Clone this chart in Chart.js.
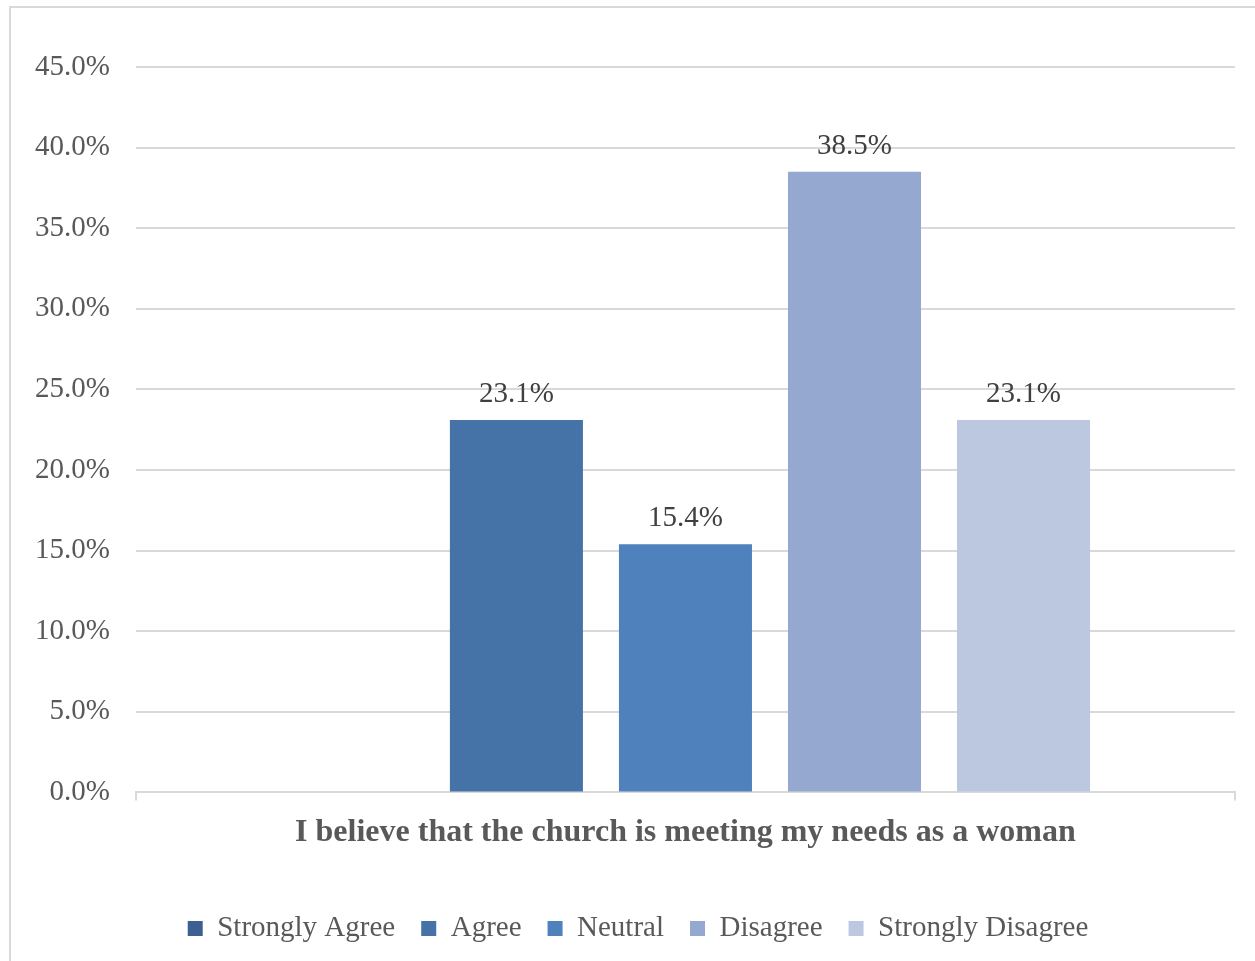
<!DOCTYPE html>
<html>
<head>
<meta charset="utf-8">
<script src="https://cdn.jsdelivr.net/npm/chart.js@4"></script>
<style>
  body { margin: 0; background: #ffffff; overflow: hidden; }
  #wrap { width: 1255px; height: 961px; position: relative; overflow: hidden; }
</style>
</head>
<body>
<div id="wrap"><canvas id="myChart" width="1255" height="961"></canvas></div>
<script>
const categories = ["I believe that the church is meeting my needs as a woman"];
const seriesNames = ["Strongly Agree", "Agree", "Neutral", "Disagree", "Strongly Disagree"];
const seriesValues = [0, 23.1, 15.4, 38.5, 23.1];
const seriesColors = ["#3b6091", "#4573a8", "#4f81bd", "#95a9d0", "#bcc8e0"];
const yTicks = [0, 5, 10, 15, 20, 25, 30, 35, 40, 45];

const serif = "'Liberation Serif', 'Times New Roman', serif";

// light frame on the left and top edge, like the source picture
const frame = {
  id: "frame",
  beforeDraw(chart) {
    const ctx = chart.ctx;
    ctx.save();
    ctx.fillStyle = "#ffffff";
    ctx.fillRect(0, 0, chart.width, chart.height);
    ctx.strokeStyle = "#d9d9d9";
    ctx.lineWidth = 2;
    ctx.beginPath();
    ctx.moveTo(10, chart.height);
    ctx.lineTo(10, 7);
    ctx.lineTo(chart.width, 7);
    ctx.stroke();
    ctx.restore();
  },
};

// nudge the legend a bit to the right, the original isn't centred on the canvas
const legendShift = {
  id: "legendShift",
  afterLayout(chart) {
    chart.legend.left += 16;
    chart.legend.right += 16;
  },
};

const barLabels = {
  id: "barLabels",
  afterDatasetsDraw(chart) {
    const ctx = chart.ctx;
    ctx.save();
    ctx.font = "29px " + serif;
    ctx.fillStyle = "#404040";
    ctx.textAlign = "center";
    ctx.textBaseline = "bottom";
    chart.data.datasets.forEach((ds, i) => {
      const meta = chart.getDatasetMeta(i);
      meta.data.forEach((bar, j) => {
        const v = ds.data[j];
        if (!v) return;
        ctx.fillText(v.toFixed(1) + "%", bar.x, bar.y - 11);
      });
    });
    ctx.restore();
  },
};

const datasets = seriesNames.map((name, i) => ({
  label: name,
  data: [seriesValues[i]],
  backgroundColor: seriesColors[i],
  categoryPercentage: 0.769,
  barPercentage: 0.787,
}));

const config = {
  type: "bar",
  data: { labels: categories, datasets },
  plugins: [frame, legendShift, barLabels],
  options: {
    responsive: false,
    animation: false,
    layout: { padding: { left: 9, right: 20, top: 67, bottom: 8 } },
    plugins: {
      tooltip: { enabled: false },
      legend: {
        position: "bottom",
        title: { display: true, text: "", padding: 2, font: { size: 16 } },
        labels: {
          color: "#595959",
          font: { family: serif, size: 29 },
          boxWidth: 15,
          boxHeight: 15,
          padding: 26,
        },
      },
    },
    scales: {
      y: {
        min: 0,
        max: 45,
        afterBuildTicks: (axis) => {
          axis.ticks = yTicks.map((v) => ({ value: v }));
        },
        border: { display: false },
        grid: { color: "#d9d9d9", lineWidth: 2, drawTicks: false },
        ticks: {
          color: "#595959",
          font: { family: serif, size: 29 },
          padding: 26,
          callback: (v) => v.toFixed(1) + "%",
        },
      },
      x: {
        border: { color: "#d9d9d9", width: 2 },
        grid: { color: "#d9d9d9", lineWidth: 2, drawOnChartArea: false, tickLength: 8 },
        ticks: {
          color: "#595959",
          font: { family: serif, size: 32, weight: "bold" },
          padding: 13,
        },
      },
    },
  },
};

const myChart = new Chart(document.getElementById("myChart"), config);
</script>
</body>
</html>
